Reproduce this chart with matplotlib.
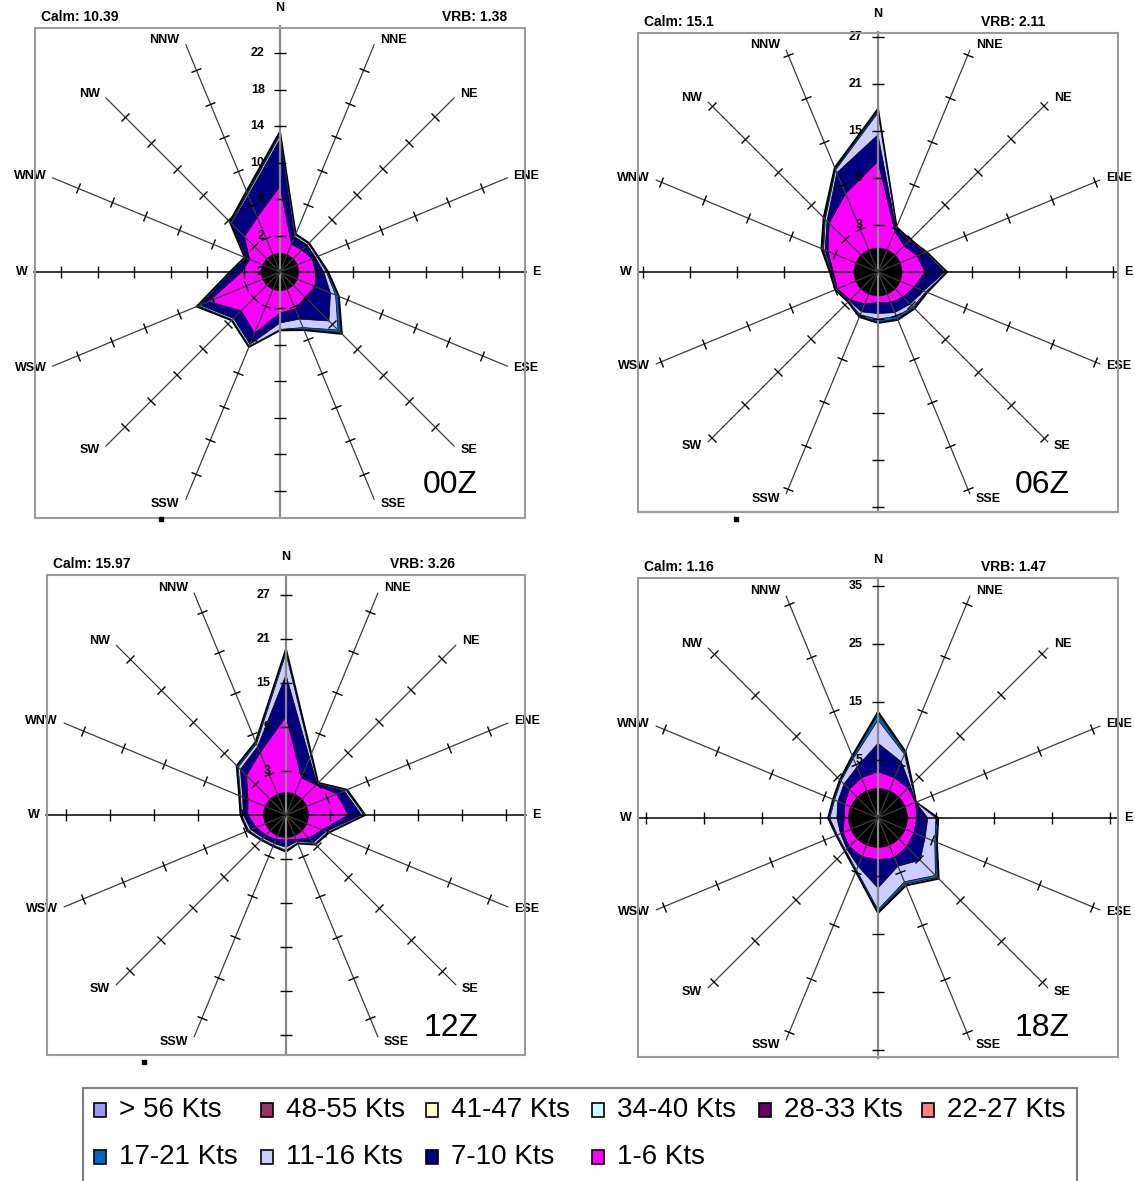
import numpy as np
import matplotlib.pyplot as plt
from matplotlib.markers import MarkerStyle
from matplotlib.transforms import Affine2D
from matplotlib.patches import Rectangle

plt.rcParams['font.family'] = ['Liberation Sans', 'DejaVu Sans']

# ---------------------------------------------------------
# data: wind frequency (%) by direction and speed class
# ---------------------------------------------------------
directions = ['N', 'NNE', 'NE', 'ENE', 'E', 'ESE', 'SE', 'SSE',
              'S', 'SSW', 'SW', 'WSW', 'W', 'WNW', 'NW', 'NNW']

hours = ['00Z', '06Z', '12Z', '18Z']
calm_pct = ['10.39', '15.1', '15.97', '1.16']
vrb_pct = ['1.38', '2.11', '3.26', '1.47']

legend_labels = ['> 56 Kts', '48-55 Kts', '41-47 Kts', '34-40 Kts', '28-33 Kts',
                 '22-27 Kts', '17-21 Kts', '11-16 Kts', '7-10 Kts', '1-6 Kts']
legend_colors = ['#9999FF', '#993366', '#FFFFCC', '#CCFFFF', '#660066',
                 '#FF8080', '#0066CC', '#CCCCFF', '#000080', '#FF00FF']

# speed classes that show up in the roses (lowest first)
plot_classes = ['1-6 Kts', '7-10 Kts', '11-16 Kts', '17-21 Kts', '22-27 Kts']

# 00Z
z00_1_6 = [7.4, 1.3, 1.4, 1.8, 1.9, 2.2, 1.9, 2.4, 2.5, 5.3, 4.0, 6.5, 2.2, 1.6, 3.5, 4.5]
z00_7_10 = [5.2, 0.9, 0.8, 0.4, 0.9, 1.8, 3.7, 1.2, 1.1, 1.3, 1.2, 1.0, 1.1, 0.4, 2.0, 2.6]
z00_11_16 = [0.4, 0.2, 0.2, 0.2, 0.3, 0.6, 1.4, 1.0, 0.7, 0.2, 0.2, 0.2, 0.1, 0.1, 0.1, 0.2]
z00_17_21 = [0.2, 0.05, 0.05, 0.05, 0.1, 0.3, 0.4, 0.2, 0.05, 0.05, 0.05, 0.1, 0.05, 0.05, 0.1, 0.15]
z00_22_27 = [0.2, 0.05, 0.05, 0.05, 0.1, 0.1, 0.2, 0.1, 0.05, 0.05, 0.05, 0.1, 0.05, 0.05, 0.1, 0.15]

# 06Z
z06_1_6 = [11.1, 2.6, 1.7, 2.4, 3.0, 2.0, 1.5, 1.2, 0.9, 1.4, 2.0, 2.6, 2.7, 3.9, 5.8, 7.8]
z06_7_10 = [3.4, 0.4, 0.9, 1.1, 2.5, 1.3, 1.3, 1.4, 1.4, 1.1, 0.2, 0.1, 0.2, 0.4, 0.4, 2.9]
z06_11_16 = [2.8, 0.1, 0.1, 0.1, 0.2, 0.3, 0.5, 0.5, 0.7, 0.4, 0.1, 0.1, 0.1, 0.2, 0.3, 0.4]
z06_17_21 = [0.3, 0.05, 0.05, 0.05, 0.05, 0.1, 0.2, 0.35, 0.4, 0.2, 0.05, 0.05, 0.05, 0.1, 0.15, 0.15]
z06_22_27 = [0.2, 0.05, 0.05, 0.05, 0.05, 0.1, 0.1, 0.15, 0.1, 0.1, 0.05, 0.05, 0.1, 0.2, 0.15, 0.15]

# 12Z
z12_1_6 = [10.4, 2.5, 2.8, 4.5, 5.5, 2.3, 1.4, 0.6, 0.4, 0.6, 0.9, 1.4, 2.2, 2.6, 4.6, 6.2]
z12_7_10 = [5.7, 2.9, 0.2, 1.1, 1.8, 0.6, 0.9, 0.3, 1.0, 0.6, 0.5, 0.8, 0.6, 0.8, 1.2, 0.9]
z12_11_16 = [2.9, 0.4, 0.1, 0.25, 0.3, 0.25, 0.25, 0.2, 0.4, 0.25, 0.25, 0.3, 0.25, 0.3, 0.4, 0.4]
z12_17_21 = [0.4, 0.1, 0.05, 0.1, 0.1, 0.1, 0.1, 0.05, 0.15, 0.1, 0.1, 0.1, 0.1, 0.1, 0.2, 0.2]
z12_22_27 = [0.2, 0.1, 0.05, 0.05, 0.1, 0.05, 0.05, 0.05, 0.05, 0.05, 0.05, 0.1, 0.05, 0.1, 0.1, 0.1]

# 18Z
z18_1_6 = [3.0, 2.5, 2.3, 2.0, 1.7, 1.7, 2.0, 2.4, 2.2, 2.2, 2.0, 1.5, 0.8, 1.2, 2.0, 2.5]
z18_7_10 = [4.9, 3.0, 0.6, 0.05, 1.9, 2.1, 3.3, 1.6, 4.9, 1.8, 0.6, 0.5, 1.3, 1.3, 1.3, 2.0]
z18_11_16 = [4.0, 1.4, 0.3, 0.03, 1.4, 1.8, 3.7, 2.9, 3.7, 0.7, 0.3, 0.6, 1.2, 0.6, 0.7, 1.6]
z18_17_21 = [1.0, 0.3, 0.1, 0.01, 0.3, 0.3, 0.5, 0.4, 0.4, 0.2, 0.1, 0.1, 0.2, 0.2, 0.2, 0.3]
z18_22_27 = [0.4, 0.2, 0.1, 0.01, 0.1, 0.1, 0.3, 0.3, 0.2, 0.1, 0.1, 0.1, 0.1, 0.1, 0.1, 0.2]

freq = {
    '00Z': [z00_1_6, z00_7_10, z00_11_16, z00_17_21, z00_22_27],
    '06Z': [z06_1_6, z06_7_10, z06_11_16, z06_17_21, z06_22_27],
    '12Z': [z12_1_6, z12_7_10, z12_11_16, z12_17_21, z12_22_27],
    '18Z': [z18_1_6, z18_7_10, z18_11_16, z18_17_21, z18_22_27],
}

# ---------------------------------------------------------
# layout (pixels of the 1135x1181 image)
# ---------------------------------------------------------
W, H = 1135, 1181
panel_layout = [
    dict(cx=280, cy=272, R=246, rmin=-2, rmax=25.0, step=4, box=(35, 28, 525, 518), vrb_x=442, zx=450, zy=485),
    dict(cx=878, cy=272, R=240, rmin=-3, rmax=27.6, step=6, box=(638, 33, 1118, 512), vrb_x=981, zx=1042, zy=485),
    dict(cx=286, cy=815, R=240, rmin=-3, rmax=29.7, step=6, box=(47, 575, 525, 1055), vrb_x=390, zx=451, zy=1028),
    dict(cx=878, cy=818, R=240, rmin=-5, rmax=36.4, step=10, box=(638, 578, 1118, 1057), vrb_x=981, zx=1042, zy=1028),
]
dots = [(161, 519), (736, 519), (144, 1062)]


def fx(px):
    return px / W


def fy(py):
    return 1 - py / H


fig = plt.figure(figsize=(W / 100, H / 100), dpi=100)

theta = np.deg2rad(np.arange(len(directions)) * 22.5)
theta_c = np.append(theta, theta[0])
theta_fine = np.linspace(0, 2 * np.pi, 240)
class_color = dict(zip(legend_labels, legend_colors))

for hour, lay, calm, vrb in zip(hours, panel_layout, calm_pct, vrb_pct):
    R = lay['R']
    rmin, rmax, step = lay['rmin'], lay['rmax'], lay['step']

    # panel frame
    l, t, r, b = lay['box']
    fig.patches.append(Rectangle((fx(l), fy(b)), fx(r) - fx(l), fy(t) - fy(b),
                                 transform=fig.transFigure, fill=False,
                                 edgecolor='#9a9a9a', lw=1.5, zorder=0))

    ax = fig.add_axes([fx(lay['cx'] - R), fy(lay['cy'] + R), 2 * R / W, 2 * R / H],
                      projection='polar')
    ax.set_theta_zero_location('N')
    ax.set_theta_direction(-1)
    ax.set_rlim(rmin, rmax)
    ax.axis('off')

    # stacked speed classes, outermost first
    cum = np.cumsum(np.array(freq[hour]), axis=0)
    for k in range(len(plot_classes) - 1, -1, -1):
        rr = np.append(cum[k], cum[k][0])
        ax.fill(theta_c, rr, facecolor=class_color[plot_classes[k]],
                edgecolor='black', lw=1.4 if k == len(plot_classes) - 1 else 0.5,
                zorder=2, clip_on=False)

    # calm circle
    ax.fill(theta_fine, np.zeros_like(theta_fine), color='black', zorder=3, clip_on=False)

    # spokes
    ticks = np.arange(rmin + step, rmax, step)
    for i, th in enumerate(theta):
        if i in (0, 8):
            col, lw = '#8a8a8a', 1.6
        elif i in (4, 12):
            col, lw = 'black', 1.1
        else:
            col, lw = '#3c3c3c', 0.9
        ax.plot([th, th], [rmin, rmax], color=col, lw=lw, zorder=4, clip_on=False)
        mk = MarkerStyle('_', transform=Affine2D().rotate_deg(180 - np.rad2deg(th)))
        ax.plot(np.full(len(ticks), th), ticks, ls='none', marker=mk, ms=8,
                mec='black', mew=1.0, zorder=5, clip_on=False)

        # direction labels sit just outside the spoke end (no label for S)
        s, c = np.sin(th), np.cos(th)
        if abs(s) < 1e-6:
            if c < 0:
                continue
            ha, dx, dy = 'center', 0, 13
        else:
            ha = 'left' if s > 0 else 'right'
            dx, dy = 4.5 * np.sign(s), 4.0 * c
        ax.annotate(directions[i], xy=(th, rmax), xytext=(dx, dy), textcoords='offset points',
                    ha=ha, va='center', fontsize=9, fontweight='bold', annotation_clip=False)

    # radial tick labels along north axis
    for v in np.arange(rmin, rmax, step):
        ax.annotate(f'{v:g}', xy=(0, v), xytext=(-11, 0), textcoords='offset points',
                    ha='right', va='center', fontsize=9, fontweight='bold', zorder=6)

    fig.text(fx(l + 6), fy(t - 11), f'Calm: {calm}', ha='left', va='center',
             fontsize=10, fontweight='bold')
    fig.text(fx(lay['vrb_x']), fy(t - 11), f'VRB: {vrb}', ha='left', va='center',
             fontsize=10, fontweight='bold')
    fig.text(fx(lay['zx']), fy(lay['zy']), hour, ha='center', va='center', fontsize=23)

for dx, dy in dots:
    fig.patches.append(Rectangle((fx(dx - 2), fy(dy + 2)), 4 / W, 4 / H,
                                 transform=fig.transFigure, color='black'))

# ---------------------------------------------------------
# legend
# ---------------------------------------------------------
fig.patches.append(Rectangle((fx(83), fy(1195)), fx(1077) - fx(83), fy(1088) - fy(1195),
                             transform=fig.transFigure, fill=False,
                             edgecolor='#808080', lw=1.5))
col_x = [100, 267, 432, 598, 765, 928]
row_y = [1110, 1157]
for j, (lab, colr) in enumerate(zip(legend_labels, legend_colors)):
    mx = col_x[j % 6]
    my = row_y[j // 6]
    fig.patches.append(Rectangle((fx(mx - 6), fy(my + 7)), 12 / W, 14 / H,
                                 transform=fig.transFigure, facecolor=colr,
                                 edgecolor='black', lw=1.2))
    fig.text(fx(mx + 19), fy(my), lab, ha='left', va='center', fontsize=20)

fig.savefig('out.png', dpi=100)
